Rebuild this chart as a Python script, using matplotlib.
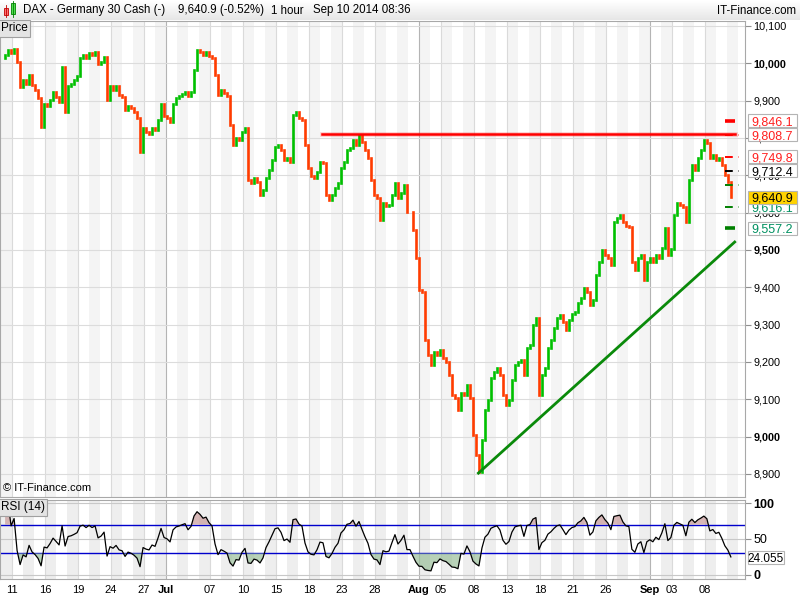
import numpy as np
import pandas as pd
import matplotlib
matplotlib.use('Agg')
import matplotlib.pyplot as plt
import matplotlib.transforms as mtransforms
from matplotlib.patches import Rectangle

plt.rcParams['font.family'] = ['Liberation Sans', 'DejaVu Sans']

# DAX closes, about one every 3 hours
closes = np.array([
    10014, 10022, 10036, 10028, 10038, 10004, 9937, 9955, 9945, 9969,
    9942, 9929, 9907, 9829, 9891, 9886, 9902, 9923, 9910, 9896,
    9990, 9870, 9939, 9945, 9955, 9966, 10014, 10022, 10014, 10028,
    10022, 10030, 9998, 10004, 10017, 9902, 9939, 9929, 9939, 9915,
    9910, 9875, 9886, 9880, 9870, 9854, 9762, 9827, 9816, 9811,
    9827, 9821, 9848, 9891, 9859, 9854, 9843, 9891, 9907, 9912,
    9918, 9923, 9912, 9923, 9982, 10036, 10030, 10022, 10030, 10020,
    10014, 9969, 9915, 9929, 9921, 9912, 9835, 9781, 9800, 9795,
    9816, 9827, 9687, 9679, 9693, 9682, 9647, 9661, 9693, 9714,
    9741, 9776, 9781, 9768, 9741, 9746, 9736, 9862, 9870, 9854,
    9848, 9781, 9720, 9698, 9693, 9709, 9736, 9733, 9647, 9634,
    9647, 9666, 9679, 9720, 9736, 9768, 9773, 9795, 9781, 9808,
    9789, 9768, 9746, 9687, 9647, 9639, 9580, 9626, 9618, 9620,
    9647, 9679, 9639, 9653, 9674, 9602, 9602, 9553, 9478, 9393,
    9387, 9259, 9219, 9192, 9227, 9219, 9232, 9211, 9200, 9165,
    9111, 9103, 9071, 9117, 9111, 9138, 9103, 9004, 8951, 8905,
    8991, 9071, 9098, 9157, 9173, 9184, 9165, 9111, 9085, 9098,
    9152, 9192, 9200, 9205, 9165, 9237, 9245, 9299, 9318, 9111,
    9165, 9184, 9237, 9259, 9291, 9318, 9326, 9307, 9286, 9312,
    9328, 9334, 9358, 9371, 9398, 9387, 9353, 9366, 9433, 9468,
    9500, 9487, 9478, 9460, 9575, 9586, 9594, 9575, 9564, 9562,
    9468, 9446, 9478, 9487, 9420, 9468, 9478, 9468, 9487, 9478,
    9505, 9559, 9487, 9503, 9594, 9626, 9620, 9615, 9575, 9687,
    9728, 9714, 9746, 9768, 9795, 9787, 9746, 9754, 9741, 9746,
    9728, 9701, 9682, 9640.9,
], dtype=float)

first_day, last_day = '2014-06-11', '2014-09-10'
bar_span = (-0.9, 65.35)   # trading-day units: Jun 10 afternoon .. Sep 10 08:36

tick_dates = ['2014-06-11', '2014-06-16', '2014-06-19', '2014-06-24', '2014-06-27',
              '2014-07-01', '2014-07-07', '2014-07-10', '2014-07-15', '2014-07-18',
              '2014-07-23', '2014-07-28', '2014-08-01', '2014-08-05', '2014-08-08',
              '2014-08-13', '2014-08-18', '2014-08-21', '2014-08-26', '2014-09-01',
              '2014-09-03', '2014-09-08']
price_ticks = list(range(8900, 10101, 100))
bold_prices = [9000, 9500, 10000]

resistance = 9810
resistance_days = [28.2, 65.7]
trend_days = [42.4, 65.7]
trend_prices = [8902, 9521]

pivot_levels = [9846.1, 9808.7, 9749.8, 9712.4, 9675.0, 9616.1, 9557.2]
pivot_colors = ['#FF0000', '#FF0000', '#FF0000', '#000000', '#008000', '#008000', '#008000']
pivot_text = ['#FF2020', '#FF2020', '#FF2020', '#000000', None, '#009060', '#009060']
pivot_solid = [True, False, False, False, False, False, True]

title = 'DAX - Germany 30 Cash (-)'
last_price = 9640.9
pct_change = -0.52
timeframe = '1 hour'
stamp = 'Sep 10 2014 08:36'
rsi_period = 14      # hourly bars
bar_hours = 2.5      # hours covered by one close above
rsi_last = 24.055

GREEN, RED = '#00C000', '#FF3C00'

fig = plt.figure(figsize=(8, 6), dpi=100)


def box(x0, y0, x1, y1):
    return [x0 / 800, 1 - y1 / 600, (x1 - x0) / 800, (y1 - y0) / 600]


ax = fig.add_axes(box(0, 21, 745, 497))
rx = fig.add_axes(box(0, 500, 745, 579))
tb = fig.add_axes(box(0, 0, 800, 20))

days = pd.bdate_range(first_day, last_day)
tick_pos = [days.get_loc(pd.Timestamp(d)) for d in tick_dates]
tick_lab = [d.strftime('%b') if d.day == 1 else d.strftime('%d') for d in pd.to_datetime(tick_dates)]
xlim = (-12 / 11, 733 / 11)

# day bands + grid
for a, shade in ((ax, '#F4F4F4'), (rx, '#EEEEEE')):
    for d in range(-1, len(days) + 1, 2):
        a.axvspan(d, d + 1, color=shade, lw=0, zorder=0)
    for p, lab in zip(tick_pos, tick_lab):
        a.axvline(p, color='#B4B4B4' if lab.isalpha() else '#DADADA', lw=0.8, zorder=1)
    a.set_xlim(*xlim)
    for s in a.spines.values():
        s.set_color('#A8A8A8')
for p in price_ticks:
    ax.axhline(p, color='#DCDCDC', lw=0.8, zorder=1)

# candles
xs = np.linspace(bar_span[0], bar_span[1], len(closes))
opens = np.r_[closes[0], closes[:-1]]
up = closes >= opens
ax.vlines(xs[up], opens[up], closes[up], color=GREEN, lw=1.9, zorder=3, capstyle='projecting')
ax.vlines(xs[~up], opens[~up], closes[~up], color=RED, lw=1.9, zorder=3, capstyle='projecting')

# resistance and trend lines
ax.plot(resistance_days, [resistance] * 2, color='#FF0000', lw=3.4, alpha=0.2, zorder=4)
ax.plot(resistance_days, [resistance] * 2, color='#FF0000', lw=1.8, zorder=4)
ax.plot(trend_days, trend_prices, color='#0A8A0A', lw=2.0, zorder=4)

# pivot markers and labels
yt = mtransforms.blended_transform_factory(ax.transAxes, ax.transData)
px_price = (10113 - 8838) / 476          # price units per pixel
bw, bh = 49 / 745, 13.5 * px_price


def label(a, trans, y, text, color, face, h, z):
    a.add_patch(Rectangle((1.004, y - h / 2), bw, h, transform=trans, fc=face, ec='#B4B4B4',
                          lw=0.8, clip_on=False, zorder=z))
    a.text(1.004 + bw / 2, y, text, transform=trans, ha='center', va='center_baseline',
           fontsize=9, color=color, clip_on=False, zorder=z + 0.1)


for k, (lv, c, tc, solid) in enumerate(zip(pivot_levels, pivot_colors, pivot_text, pivot_solid)):
    if solid:
        ax.plot([64.8, 65.7], [lv, lv], color=c, lw=2.6, zorder=4, solid_capstyle='butt')
    else:
        ax.plot([64.8, 66.1], [lv, lv], color=c, lw=1.4, ls=(0, (4, 3)), zorder=4)
    if tc:
        label(ax, yt, lv, f'{lv:,.1f}', tc, 'white', bh, 6 + k * 0.2)
label(ax, yt, last_price, f'{last_price:,.1f}', 'black', '#FFD200', bh, 8)

ax.set_ylim(8838, 10113)
ax.yaxis.tick_right()
ax.set_yticks(price_ticks)
ax.set_yticklabels([f'{p:,}' for p in price_ticks])
for lab, p in zip(ax.get_yticklabels(), price_ticks):
    if p in bold_prices:
        lab.set_fontweight('bold')
ax.tick_params(axis='y', direction='out', length=4, color='#909090', labelsize=7.8, pad=2)
ax.tick_params(axis='x', bottom=False, labelbottom=False)

ax.text(0.001, 0.997, 'Price', transform=ax.transAxes, ha='left', va='top', fontsize=8.5,
        zorder=9, bbox=dict(boxstyle='square,pad=0.22', fc='#E4E4E4', ec='#A0A0A0', lw=0.8))
ax.text(0.004, 0.008, '\u00a9 IT-Finance.com', transform=ax.transAxes, ha='left', va='bottom',
        fontsize=8, zorder=9)

# RSI(14) on hourly bars -> same time window on the coarser closes above
n = max(2, round(rsi_period / bar_hours))
delta = np.diff(closes, prepend=closes[0])
gain = pd.Series(np.clip(delta, 0, None)).ewm(alpha=1 / n, adjust=False).mean()
loss = pd.Series(np.clip(-delta, 0, None)).ewm(alpha=1 / n, adjust=False).mean()
rsi = (100 - 100 / (1 + gain / loss)).to_numpy()

for lv in (0, 50, 100):
    rx.axhline(lv, color='#C8C8C8', lw=0.8, zorder=1)
rx.axhline(70, color='#0000CC', lw=1.0, zorder=2)
rx.axhline(30, color='#0000CC', lw=1.0, zorder=2)
rx.fill_between(xs, rsi, 70, where=rsi > 70, color='#C89A9A', alpha=0.7, lw=0, zorder=2, interpolate=True)
rx.fill_between(xs, rsi, 30, where=rsi < 30, color='#9AC09A', alpha=0.7, lw=0, zorder=2, interpolate=True)
rx.plot(xs, rsi, color='black', lw=0.9, zorder=3)
rx.set_ylim(-5.6, 104.2)
rx.yaxis.tick_right()
rx.set_yticks([0, 50, 100])
rx.set_yticklabels(['0', '50', '100'])
for lab, t in zip(rx.get_yticklabels(), [0, 50, 100]):
    if t != 50:
        lab.set_fontweight('bold')
rx.tick_params(axis='y', direction='out', length=4, color='#909090', labelsize=9, pad=2)
rt = mtransforms.blended_transform_factory(rx.transAxes, rx.transData)
rx.add_patch(Rectangle((1.004, rsi_last - 9.5), 36 / 745, 19, transform=rt, fc='white',
                       ec='#B4B4B4', lw=0.8, clip_on=False, zorder=6))
rx.text(1.004 + 18 / 745, rsi_last, f'{rsi_last:.3f}', transform=rt, ha='center',
        va='center_baseline', fontsize=8.5, clip_on=False, zorder=6.1)
rx.set_xticks(tick_pos)
rx.set_xticklabels(tick_lab)
for lab in rx.get_xticklabels():
    if lab.get_text().isalpha():
        lab.set_fontweight('bold')
rx.tick_params(axis='x', length=0, labelsize=8, pad=4)
rx.text(0.001, 0.985, 'RSI (14)', transform=rx.transAxes, ha='left', va='top', fontsize=8.5,
        zorder=8, bbox=dict(boxstyle='square,pad=0.22', fc='#E4E4E4', ec='#A0A0A0', lw=0.8))

# title bar
grad = np.linspace(1.0, 0.9, 20)[:, None] * np.ones((20, 2))
tb.imshow(grad, cmap='gray', vmin=0, vmax=1, extent=[0, 800, 20, 0], aspect='auto')
tb.set_xlim(0, 800)
tb.set_ylim(20, 0)
tb.axis('off')
tb.add_patch(Rectangle((3.5, 8), 4, 7, fc='#FF7070', ec='#C00000', lw=0.6))
tb.add_patch(Rectangle((10.5, 3), 4, 11, fc='#50E050', ec='#008000', lw=0.6))
tb.plot([5.5, 5.5], [5, 17], color='#C00000', lw=0.6)
tb.plot([12.5, 12.5], [1, 17], color='#008000', lw=0.6)
ty = 10.5
tb.text(23, ty, title, fontsize=8.3, va='center')
tb.text(178, ty, f'{last_price:,.1f} ({pct_change:.2f}%)', fontsize=8.3, va='center')
tb.text(271, ty, timeframe, fontsize=8.3, va='center')
tb.text(313, ty, stamp, fontsize=8.3, va='center')
tb.text(796, ty, 'IT-Finance.com', fontsize=8.3, va='center', ha='right')

fig.savefig('out.png', dpi=100)
